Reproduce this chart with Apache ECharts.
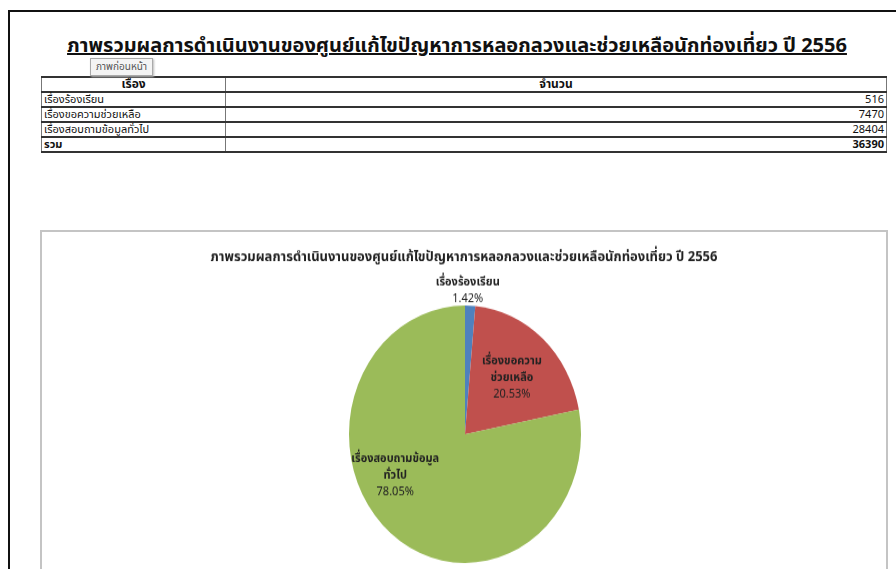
<!DOCTYPE html>
<html lang="th">
<head>
<meta charset="utf-8" />
<title>ภาพรวมผลการดำเนินงาน ปี 2556</title>
<script src="https://cdn.jsdelivr.net/npm/echarts@6/dist/echarts.min.js"></script>
<style>
  body { margin: 0; background: #fff; width: 896px; height: 569px; overflow: hidden; position: relative;
         font-family: 'Noto Sans Thai', Tahoma, 'Noto Sans', sans-serif; }
  #frame { position: absolute; left: 8px; top: 10px; width: 900px; height: 600px;
           border-left: 2px solid #111; border-top: 2px solid #111; }
  #head { position: absolute; left: 62px; top: 31px; width: 790px; text-align: center;
          font-size: 20px; font-weight: bold; color: #111; text-decoration: underline; white-space: nowrap; }
  #tip { position: absolute; left: 90px; top: 58px; padding: 0 5px; height: 16px; line-height: 16px;
         font-size: 10px; color: #555; background: #f4f4f4; border: 1px solid #aaa;
         box-shadow: 1px 1px 2px #bbb; z-index: 2; }
  #tbl { position: absolute; left: 41px; top: 76px; width: 846px; border-collapse: collapse; font-size: 11px; color: #111; }
  #tbl td, #tbl th { height: 13px; line-height: 13px; padding: 0 2px; border-top: 2px solid #333; border-bottom: 2px solid #333;
                     border-left: 1px solid #777; border-right: 1px solid #777; white-space: nowrap; }
  #tbl th { font-size: 12px; }
  #tbl td.n { text-align: right; }
  #tbl tr.sum td { font-weight: bold; }
  #box { position: absolute; left: 40px; top: 230px; width: 844px; height: 400px;
         border: 2px solid #c4c4c4; }
  #main { position: absolute; left: 42px; top: 230px; width: 844px; height: 306px;
          transform-origin: 0 0; transform: scaleY(1.11); }
</style>
</head>
<body>
<div id="frame"></div>
<div id="head"></div>
<div id="tip">ภาพก่อนหน้า</div>
<table id="tbl"></table>
<div id="box"></div>
<div id="main"></div>

<script>
// data
var titleText = 'ภาพรวมผลการดำเนินงานของศูนย์แก้ไขปัญหาการหลอกลวงและช่วยเหลือนักท่องเที่ยว ปี 2556';
var headers = ['เรื่อง', 'จำนวน'];
var categories = ['เรื่องร้องเรียน', 'เรื่องขอความช่วยเหลือ', 'เรื่องสอบถามข้อมูลทั่วไป'];
var values = [516, 7470, 28404];
var totalLabel = 'รวม';
var totalValue = 36390;
var labelNames = ['เรื่องร้องเรียน', 'เรื่องขอความ\nช่วยเหลือ', 'เรื่องสอบถามข้อมูล\nทั่วไป'];
var colors = ['#4F81BD', '#C0504D', '#9BBB59'];

document.getElementById('head').textContent = titleText;

// table
var html = '<tr><th style="width:179px">' + headers[0] + '</th><th>' + headers[1] + '</th></tr>';
for (var i = 0; i < categories.length; i++) {
  html += '<tr><td>' + categories[i] + '</td><td class="n">' + values[i] + '</td></tr>';
}
html += '<tr class="sum"><td>' + totalLabel + '</td><td class="n">' + totalValue + '</td></tr>';
document.getElementById('tbl').innerHTML = html;

// pie
var myChart = echarts.init(document.getElementById('main'));
var offsets = [[0, -68], [6, -5], [-31, -9]];
var pieData = [];
for (var j = 0; j < categories.length; j++) {
  pieData.push({
    name: categories[j],
    value: values[j],
    itemStyle: { color: colors[j] },
    label: { offset: offsets[j] }
  });
}

var option = {
  animation: false,
  title: {
    text: titleText,
    left: 'center',
    top: 14,
    textStyle: { fontSize: 13, fontWeight: 'bold', color: '#222',
                 fontFamily: "'Noto Sans Thai', Tahoma, sans-serif" }
  },
  series: [{
    type: 'pie',
    center: [423, 184],
    radius: 116,
    startAngle: 90,
    clockwise: true,
    data: pieData,
    itemStyle: { borderWidth: 0 },
    labelLine: { show: false },
    label: {
      show: true,
      position: 'inside',
      color: '#222',
      fontSize: 11,
      lineHeight: 15,
      fontFamily: "'Noto Sans Thai', Tahoma, sans-serif",
      formatter: function (p) {
        var nm = labelNames[p.dataIndex].split('\n').map(function (s) { return '{b|' + s + '}'; }).join('\n');
        return nm + '\n{p|' + p.percent.toFixed(2) + '%}';
      },
      rich: {
        b: { fontWeight: 'bold', fontSize: 11, lineHeight: 15, color: '#222' },
        p: { fontSize: 11, lineHeight: 15, color: '#222' }
      }
    }
  }]
};
myChart.setOption(option);
</script>
</body>
</html>
